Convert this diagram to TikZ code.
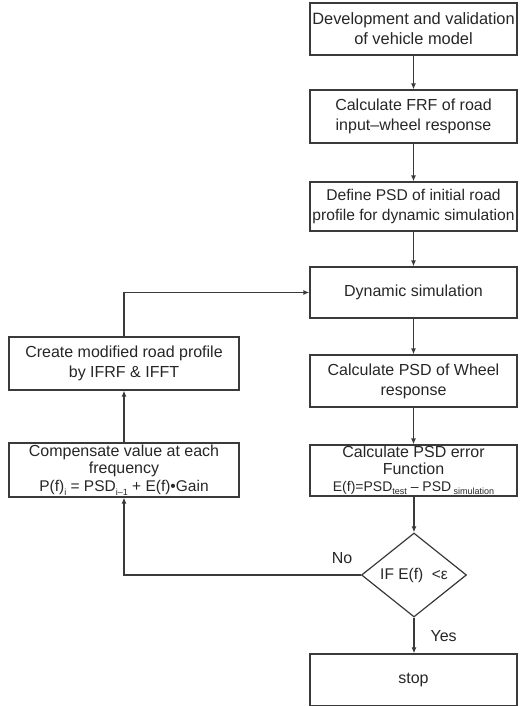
\documentclass[tikz,border=0pt]{standalone}
\usepackage{fontspec}
\setmainfont{Liberation Sans}
\usetikzlibrary{shapes.geometric,arrows.meta}
\definecolor{ln}{HTML}{3A3A3A}
\newcommand\mysubtx[1]{\raisebox{-0.45ex}{\fontsize{9}{9}\selectfont #1}}
\tikzset{
  box/.style={draw=ln, line width=1.2pt, rectangle, align=center, inner sep=0pt,
    font=\fontsize{16}{20}\selectfont, text=black!85},
  rbox/.style={box, minimum width=207pt},
  lbox/.style={box, minimum width=230pt},
  dec/.style={draw=ln, line width=1.2pt, diamond, aspect=1.25, inner sep=0pt,
    minimum width=105pt, minimum height=84pt, font=\fontsize{15.5}{18}\selectfont, text=black!85},
  conn/.style={draw=ln, line width=1.2pt, -{Latex[length=6pt,width=5pt]}},
  lab/.style={font=\fontsize{16}{19}\selectfont, text=black!85}
}
\begin{document}
\begin{tikzpicture}[x=1pt,y=-1pt]
\useasboundingbox (0,0) rectangle (519,706);
\node[rbox, minimum height=52pt, font=\fontsize{16.4}{20}\selectfont] (b1) at (413.5,29) {Development and validation\\of vehicle model};
\node[rbox, minimum height=53pt] (b2) at (413.5,116.5) {Calculate FRF of road\\input\textendash wheel response};
\node[rbox, minimum height=49pt, font=\fontsize{15.6}{20}\selectfont] (b3) at (413.5,206.5) {Define PSD of initial road\\profile for dynamic simulation};
\node[rbox, minimum height=51pt] (b4) at (413.5,292.5) {Dynamic simulation};
\node[rbox, minimum height=52pt] (b5) at (413.5,381) {Calculate PSD of Wheel\\response};
\node[rbox, minimum height=51pt, font=\fontsize{16}{17}\selectfont] (b6) at (413.5,470.5)
  {Calculate PSD error\\Function\\{\fontsize{14}{14}\selectfont E(f)=PSD\mysubtx{test} \textendash\ PSD\,\mysubtx{simulation}}};
\node[dec] (d) at (414,575) {IF E(f)\ \ <ε};
\node[rbox, minimum height=52pt] (stop) at (413.5,680) {stop};
\node[lbox, minimum height=53pt] (c) at (124,363.5) {Create modified road profile\\by IFRF \& IFFT};
\node[lbox, minimum height=54pt, font=\fontsize{16}{17.5}\selectfont] (p) at (124,470)
  {Compensate value at each\\frequency\\{\fontsize{15.5}{15.5}\selectfont P(f)\mysubtx{i} = PSD\mysubtx{i\textendash 1} + E(f)\textbullet Gain}};
\node[lab] (no) at (342,558) {No};
\node[lab, anchor=west] (yes) at (427,636) {Yes};
\draw[conn] (b1) -- (b2);
\draw[conn] (b2) -- (b3);
\draw[conn] (b3) -- (b4);
\draw[conn] (b4) -- (b5);
\draw[conn] (b5) -- (b6);
\draw[conn] (b6.south -| d.north) -- (d.north);
\draw[conn] (d.south) -- (stop.north -| d.south);
\draw[conn] (d.west) -| (p.south);
\draw[conn] (p.north) -- (c.south);
\draw[conn] (c.north) |- (b4.west);
\end{tikzpicture}
\end{document}
